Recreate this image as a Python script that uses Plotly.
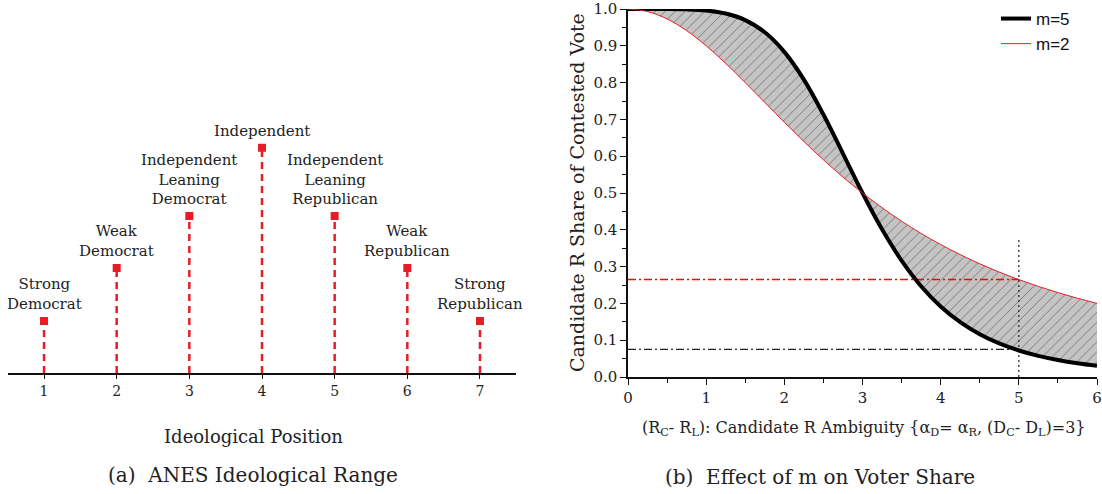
import plotly.graph_objects as go

# ---- Panel (a) data ----
positions = [1, 2, 3, 4, 5, 6, 7]
heights = [1.0, 2.02, 3.02, 4.33, 3.02, 2.02, 1.0]
labels = ["Strong<br>Democrat", "Weak<br>Democrat", "Independent<br>Leaning<br>Democrat",
          "Independent", "Independent<br>Leaning<br>Republican", "Weak<br>Republican",
          "Strong<br>Republican"]

# ---- Panel (b) data ----
ambiguity = [0, 0.25, 0.5, 0.75, 1.0, 1.25, 1.5, 1.75, 2.0, 2.25, 2.5, 2.75, 3.0,
             3.25, 3.5, 3.75, 4.0, 4.25, 4.5, 4.75, 5.0, 5.25, 5.5, 5.75, 6.0]
share_m5 = [1.0, 1.0, 0.9999, 0.999, 0.9959, 0.9876, 0.9697, 0.9368, 0.8836, 0.8082,
            0.7133, 0.6072, 0.5, 0.4012, 0.3163, 0.2468, 0.1918, 0.1491, 0.1164, 0.0913,
            0.0721, 0.0574, 0.0461, 0.0372, 0.0303]
share_m2 = [1.0, 0.9931, 0.9730, 0.9412, 0.9, 0.8521, 0.8, 0.7461, 0.6923, 0.64,
            0.5902, 0.5434, 0.5, 0.4601, 0.4235, 0.3902, 0.36, 0.3326, 0.3077, 0.2851,
            0.2647, 0.2462, 0.2293, 0.2140, 0.2]
ref_x = 5.0
ref_m2 = 0.265
ref_m5 = 0.075
vline_top = 0.38

W, H = 1102, 494
SERIF = "DejaVu Serif"
RED = "#e81c24"


def PX(X):
    return min(1.0, max(0.0, X / W))


def PY(Y):
    return min(1.0, max(0.0, 1 - Y / H))


fig = go.Figure()

# stems
sx, sy = [], []
for p, h in zip(positions, heights):
    sx += [p, p, None]
    sy += [0, h, None]
fig.add_trace(go.Scatter(x=sx, y=sy, mode="lines", xaxis="x", yaxis="y",
                         line=dict(color=RED, width=2.5, dash="7px,5px"),
                         showlegend=False, hoverinfo="skip"))
fig.add_trace(go.Scatter(x=positions, y=heights, mode="markers", xaxis="x", yaxis="y",
                         marker=dict(symbol="square", size=8, color=RED),
                         showlegend=False))
for p, h, t in zip(positions, heights, labels):
    fig.add_annotation(x=p, y=h, xref="x", yref="y", text=t, showarrow=False,
                       xanchor="center", yanchor="bottom", yshift=6,
                       font=dict(family=SERIF, size=15, color="#222"))

# fills
fig.add_trace(go.Scatter(x=ambiguity, y=share_m5, mode="lines", xaxis="x2", yaxis="y2",
                         line=dict(width=0, shape="spline"), showlegend=False,
                         hoverinfo="skip"))
fig.add_trace(go.Scatter(x=ambiguity, y=share_m2, mode="lines", xaxis="x2", yaxis="y2",
                         line=dict(width=0, shape="spline"), fill="tonexty",
                         fillcolor="#c4c4c4",
                         fillpattern=dict(shape="/", bgcolor="#c4c4c4", fgcolor="#333333",
                                          size=7, solidity=0.14),
                         showlegend=False, hoverinfo="skip"))
# reference lines
fig.add_trace(go.Scatter(x=[0, ref_x], y=[ref_m2, ref_m2], mode="lines", xaxis="x2", yaxis="y2",
                         line=dict(color="red", width=1.3, dash="8px,3px,2px,3px"),
                         showlegend=False, hoverinfo="skip"))
fig.add_trace(go.Scatter(x=[0, ref_x], y=[ref_m5, ref_m5], mode="lines", xaxis="x2", yaxis="y2",
                         line=dict(color="#222", width=1.2, dash="8px,3px,2px,3px"),
                         showlegend=False, hoverinfo="skip"))
fig.add_trace(go.Scatter(x=[ref_x, ref_x], y=[0, vline_top], mode="lines", xaxis="x2", yaxis="y2",
                         line=dict(color="#222", width=1.2, dash="2px,3px"),
                         showlegend=False, hoverinfo="skip"))
# curves
fig.add_trace(go.Scatter(x=ambiguity, y=share_m5, mode="lines", xaxis="x2", yaxis="y2",
                         name="m=5", line=dict(color="black", width=4, shape="spline")))
fig.add_trace(go.Scatter(x=ambiguity, y=share_m2, mode="lines", xaxis="x2", yaxis="y2",
                         name="m=2", line=dict(color=RED, width=1, shape="spline")))

fig.update_layout(
    width=W, height=H, margin=dict(l=0, r=0, t=0, b=0, autoexpand=False),
    paper_bgcolor="white", plot_bgcolor="white",
    font=dict(family=SERIF, color="#222"),
    showlegend=True,
    legend=dict(x=PX(996), y=PY(1), xanchor="left", yanchor="top", traceorder="normal",
                bgcolor="rgba(0,0,0,0)", font=dict(family="Liberation Sans", size=17, color="#111"),
                tracegroupgap=0, itemwidth=30),
    xaxis=dict(domain=[PX(7.7), PX(516.3)], range=[0.5, 7.5], tickvals=positions,
               automargin=False,
               showline=True, linecolor="#111", linewidth=1.5, ticks="outside", ticklen=4,
               tickcolor="#111", showgrid=False, zeroline=False,
               tickfont=dict(family=SERIF, size=14, color="#222")),
    yaxis=dict(domain=[PY(373), PY(113)], range=[0, 5], visible=False, automargin=False),
    xaxis2=dict(domain=[PX(628), PX(1097)], range=[0, 6], dtick=1, anchor="y2",
                automargin=False,
                showline=True, linecolor="#111", linewidth=1.5, ticks="outside", ticklen=6,
                tickcolor="#111", showgrid=False, zeroline=False,
                minor=dict(dtick=0.5, ticks="outside", ticklen=4, tickcolor="#111"),
                tickfont=dict(family=SERIF, size=15, color="#222")),
    yaxis2=dict(domain=[PY(377), PY(9)], range=[0, 1.0], dtick=0.1, anchor="x2",
                tickformat=".1f", automargin=False,
                showline=True, linecolor="#111", linewidth=1.5, ticks="outside", ticklen=6,
                tickcolor="#111", showgrid=False, zeroline=False,
                minor=dict(dtick=0.05, ticks="outside", ticklen=4, tickcolor="#111"),
                tickfont=dict(family=SERIF, size=15, color="#222")),
)

ann_font = dict(family=SERIF, color="#222")
common = dict(xref="paper", yref="paper", showarrow=False, xanchor="center", yanchor="middle")
fig.add_annotation(x=PX(253), y=PY(436), text="Ideological Position",
                   font=dict(size=18, **ann_font), **common)
fig.add_annotation(x=PX(253), y=PY(475), text="(a)  ANES Ideological Range",
                   font=dict(size=20, **ann_font), **common)
fig.add_annotation(x=PX(577), y=PY(193), textangle=-90,
                   text="Candidate R Share of Contested Vote",
                   font=dict(size=19, **ann_font), **common)
fig.add_annotation(x=PX(864), y=PY(428),
                   text="(R<sub>C</sub>- R<sub>L</sub>): Candidate R Ambiguity {α<sub>D</sub>= α<sub>R</sub>, (D<sub>C</sub>- D<sub>L</sub>)=3}",
                   font=dict(size=16, **ann_font), **common)
fig.add_annotation(x=PX(820), y=PY(477), text="(b)  Effect of m on Voter Share",
                   font=dict(size=20, **ann_font), **common)

fig.write_html("out.html")
